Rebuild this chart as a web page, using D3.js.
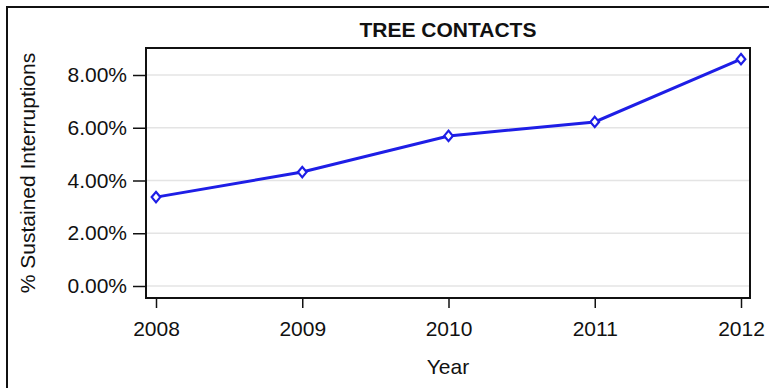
<!DOCTYPE html>
<html>
<head>
<meta charset="utf-8">
<script src="https://cdn.jsdelivr.net/npm/d3@7"></script>
<style>
  body { margin: 0; background: #fff; }
  text { font-family: "Liberation Sans", Arial, sans-serif; fill: #111; }
</style>
</head>
<body>
<svg id="chart"></svg>
<script>
(function() {

  // data
  const years = [2008, 2009, 2010, 2011, 2012];
  const sustained = [3.37, 4.32, 5.69, 6.22, 8.6];   // % sustained interruptions
  const yTicks = [0, 2, 4, 6, 8];

  const title = 'TREE CONTACTS';
  const xTitle = 'Year';
  const yTitle = '% Sustained Interruptions';

  const width = 769;
  const height = 388;

  // plot frame
  const frame = { left: 146, top: 48, right: 750, bottom: 298 };

  const svg = d3.select('#chart')
    .attr('width', width)
    .attr('height', height);

  // outer border
  svg.append('rect')
    .attr('x', 7).attr('y', 7)
    .attr('width', 820).attr('height', 420)
    .attr('fill', 'none')
    .attr('stroke', '#111')
    .attr('stroke-width', 2);

  const x = d3.scaleLinear().domain([2008, 2012]).range([156, 741]);
  const y = d3.scaleLinear().domain([0, 8]).range([286, 75]);

  // grid lines
  svg.append('g').attr('class', 'grid')
    .selectAll('line')
    .data(yTicks)
    .enter()
    .append('line')
    .attr('x1', frame.left)
    .attr('x2', frame.right)
    .attr('y1', d => y(d))
    .attr('y2', d => y(d))
    .attr('stroke', '#e4e4e4')
    .attr('stroke-width', 1.5);

  // axes
  const yAxis = d3.axisLeft(y)
    .tickValues(yTicks)
    .tickFormat(d => d3.format('.2f')(d) + '%')
    .tickSize(13)
    .tickPadding(6);

  const yAxisG = svg.append('g')
    .attr('transform', 'translate(' + frame.left + ',0)')
    .call(yAxis);

  const xAxis = d3.axisBottom(x)
    .tickValues(years)
    .tickFormat(d3.format('d'))
    .tickSize(10)
    .tickPadding(13);

  const xAxisG = svg.append('g')
    .attr('transform', 'translate(0,' + frame.bottom + ')')
    .call(xAxis);

  [yAxisG, xAxisG].forEach(function(g) {
    g.attr('font-size', 21).attr('font-family', '"Liberation Sans", Arial, sans-serif');
    g.select('.domain').remove();
    g.selectAll('.tick line').attr('stroke', '#111').attr('stroke-width', 1.5);
    g.selectAll('.tick text')
      .style('font-size', '21px')
      .attr('fill', '#111');
  });

  // frame
  svg.append('rect')
    .attr('x', frame.left)
    .attr('y', frame.top)
    .attr('width', frame.right - frame.left)
    .attr('height', frame.bottom - frame.top)
    .attr('fill', 'none')
    .attr('stroke', '#111')
    .attr('stroke-width', 2);

  // line
  const points = years.map((yr, i) => ({ year: yr, value: sustained[i] }));

  svg.append('path')
    .datum(points)
    .attr('d', d3.line().x(d => x(d.year)).y(d => y(d.value)))
    .attr('fill', 'none')
    .attr('stroke', '#1e1ee6')
    .attr('stroke-width', 3);

  svg.append('g').selectAll('path')
    .data(points)
    .enter()
    .append('path')
    .attr('transform', d => 'translate(' + x(d.year) + ',' + y(d.value) + ') scale(1,1.2)')
    .attr('d', d3.symbol().type(d3.symbolDiamond2).size(48))
    .attr('fill', '#fff')
    .attr('stroke', '#1e1ee6')
    .attr('stroke-width', 2);

  // titles
  svg.append('text')
    .attr('x', (frame.left + frame.right) / 2)
    .attr('y', 37)
    .attr('text-anchor', 'middle')
    .style('font-size', '21px')
    .style('font-weight', 'bold')
    .text(title);

  svg.append('text')
    .attr('x', (frame.left + frame.right) / 2)
    .attr('y', 374)
    .attr('text-anchor', 'middle')
    .style('font-size', '21px')
    .text(xTitle);

  svg.append('text')
    .attr('transform', 'translate(35,' + ((frame.top + frame.bottom) / 2) + ') rotate(-90)')
    .attr('text-anchor', 'middle')
    .style('font-size', '21px')
    .text(yTitle);

})();
</script>
</body>
</html>
